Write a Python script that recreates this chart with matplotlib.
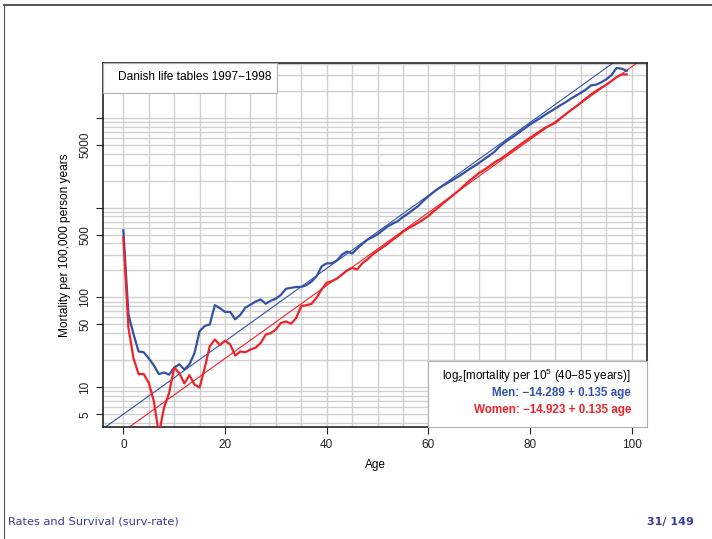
import numpy as np
import matplotlib.pyplot as plt

plt.rcParams['font.family'] = ['Liberation Sans', 'DejaVu Sans']
plt.rcParams['mathtext.default'] = 'regular'

# mortality per 100,000 person years, ages 0-99
ages = np.arange(100)
men = [560, 65, 39, 25, 24.5, 21, 17.5, 14, 14.6, 13.8,
       16.5, 18, 15.7, 18, 24, 42, 48, 50, 82, 76,
       69, 69, 57, 64, 77, 83, 90, 95, 85, 92,
       97, 107, 125, 128, 131, 131, 137, 150, 172, 222,
       240, 240, 258, 300, 325, 308, 350, 395, 440, 470,
       505, 560, 620, 665, 710, 790, 860, 950, 1045, 1190,
       1340, 1490, 1640, 1780, 1920, 2080, 2240, 2450, 2680, 2900,
       3170, 3480, 3820, 4200, 4800, 5350, 5850, 6350, 7000, 7700,
       8500, 9200, 10000, 10900, 11800, 12800, 13900, 15000, 16400, 17700,
       19100, 20800, 23100, 23500, 25000, 27000, 30000, 36000, 35500, 33500]
women = [465, 46, 21, 14, 14, 11.2, 7, 3.0, 5.9, 8.6,
         16.5, 14.4, 11, 13.6, 10.7, 9.9, 16.4, 28.5, 34, 29.5,
         33, 30, 22.5, 25, 24.5, 26.3, 27.5, 31, 38.5, 40,
         44, 52, 54, 51, 59, 80, 82, 85, 99, 123,
         146, 152, 162, 180, 200, 214, 205, 240, 265, 300,
         330, 362, 397, 440, 483, 540, 588, 630, 680, 740,
         806, 910, 1010, 1130, 1260, 1400, 1560, 1760, 1980, 2200,
         2450, 2650, 2900, 3200, 3450, 3760, 4150, 4550, 5000, 5500,
         6000, 6550, 7150, 7800, 8300, 8860, 9900, 11000, 12200, 13400,
         14800, 16500, 18300, 20000, 21700, 23500, 25800, 28500, 30600, 30600]

# log2 fits (rate per person year), ages 40-85
fit_men = (-14.289, 0.135)
fit_women = (-14.923, 0.135)

blue = '#3352A6'
red = '#EE2229'

fig = plt.figure(figsize=(7.12, 5.39), dpi=100)


def fx(px):
    return px / 712


def fy(py):
    return 1 - py / 539


# slide frame and footer
fig.add_artist(plt.Line2D([fx(4), 1], [fy(5), fy(5)], color='#333333', lw=1.2))
fig.add_artist(plt.Line2D([fx(4), fx(4)], [0, fy(5)], color='#555555', lw=0.8))
fig.text(fx(8), fy(522), 'Rates and Survival (surv-rate)', color='#3b3b9a',
         fontsize=8.2, family='DejaVu Sans', va='center')
fig.text(fx(694), fy(522), '31/ 149', color='#3b3b9a', fontsize=8,
         family='DejaVu Sans', fontweight='bold', va='center', ha='right')

ax = fig.add_axes([fx(103), fy(427), fx(544), 364 / 539])
ax.set_yscale('log')
ax.set_xlim(-4, 103)
ax.set_ylim(3.6, 41000)

# grid: every 5 years, and 1..9 x powers of ten
for a in range(0, 101, 5):
    ax.axvline(a, color='#d0d0d0', lw=1, zorder=0)
for p in range(0, 5):
    for k in range(1, 10):
        ax.axhline(k * 10**p, color='#d0d0d0', lw=1, zorder=0)

xx = np.linspace(-5, 105, 200)
ax.plot(xx, 1e5 * 2**(fit_men[0] + fit_men[1] * xx), color=blue, lw=0.8, zorder=2)
ax.plot(xx, 1e5 * 2**(fit_women[0] + fit_women[1] * xx), color=red, lw=0.8, zorder=2)
ax.plot(ages, men, color=blue, lw=1.6, zorder=3)
ax.plot(ages, women, color=red, lw=1.6, zorder=3)

ax.set_xticks(range(0, 101, 20))
yt = [5, 10, 50, 100, 500, 1000, 5000, 10000]
ax.set_yticks(yt)
ax.set_yticklabels(['5', '10', '50', '100', '500', '', '5000', ''],
                   rotation=90, va='center')
ax.minorticks_off()
ax.tick_params(labelsize=8.5, length=5, width=0.8, colors='#222222')
for s in ax.spines.values():
    s.set_color('#222222')
    s.set_linewidth(1.2)

ax.set_xlabel('Age', fontsize=8.5, labelpad=6)
ax.set_ylabel('Mortality per 100,000 person years', fontsize=8.6, labelpad=6)

# title box, upper left
tb = plt.Rectangle((fx(103), fy(93)), fx(174), 30 / 539, transform=fig.transFigure,
                   fc='white', ec='#b0b0b0', lw=0.8, zorder=4)
fig.add_artist(tb)
fig.text(fx(118), fy(77), 'Danish life tables 1997\u22121998', fontsize=8.6,
         ha='left', va='center', zorder=6)

# fit box, lower right
bx = plt.Rectangle((fx(428), fy(427)), fx(219), 66 / 539, transform=fig.transFigure,
                   fc='white', ec='#b0b0b0', lw=0.8, zorder=4)
fig.add_artist(bx)
tx = fx(631)
fig.text(tx, fy(376), 'log$_2$[mortality per 10$^5$ (40\u221285 years)]',
         ha='right', va='center', fontsize=8.4, zorder=6)
fig.text(tx, fy(393),
         'Men: \u2212%.3f + %.3f age' % (-fit_men[0], fit_men[1]),
         ha='right', va='center', fontsize=8.4, color=blue, fontweight='bold', zorder=6)
fig.text(tx, fy(410),
         'Women: \u2212%.3f + %.3f age' % (-fit_women[0], fit_women[1]),
         ha='right', va='center', fontsize=8.4, color=red, fontweight='bold', zorder=6)

fig.savefig('out.png', dpi=100)
